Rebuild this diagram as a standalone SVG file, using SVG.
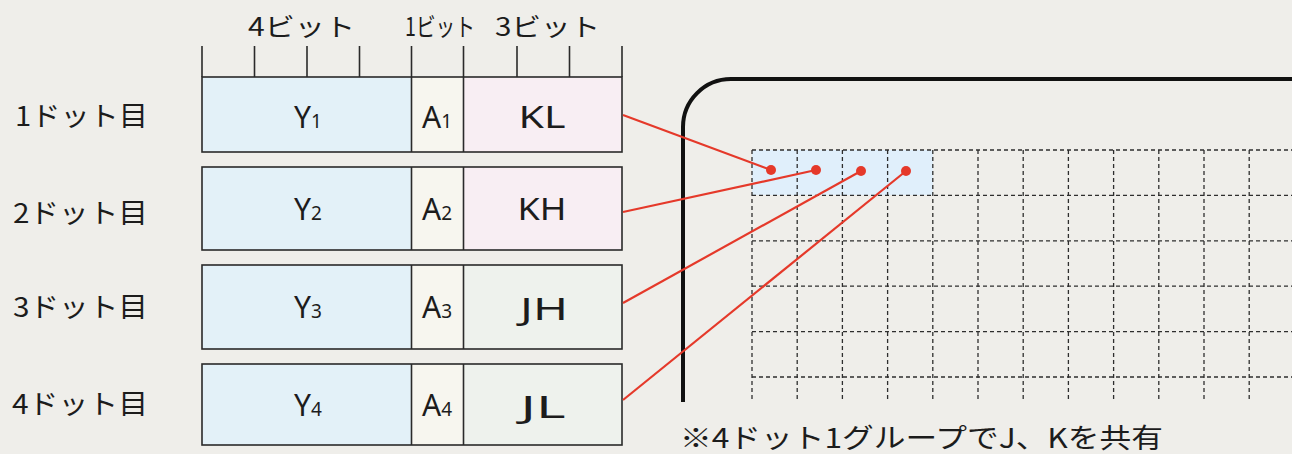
<svg xmlns="http://www.w3.org/2000/svg" width="1292" height="454" viewBox="0 0 1292 454">
<style>
  .t { font-family: "Noto Sans CJK JP", "Noto Sans", sans-serif; fill: #1c1c1c; }
  .c { font-family: "Noto Sans", "Liberation Sans", sans-serif; fill: #1c1c1c; text-anchor: middle; }
  .box { stroke: #2a2a2a; stroke-width: 1.6; }
  .tick { stroke: #2a2a2a; stroke-width: 1.6; }
  .grid { stroke: #2e2e2e; stroke-width: 1.3; stroke-dasharray: 4 3; fill: none; }
  .red { stroke: #e5392a; stroke-width: 2.2; fill: none; }
  .dot { fill: #e5392a; }
  .yc { fill: #e3f1f8; }
  .ac { fill: #f7f6ef; }
  .kc { fill: #f8eef3; }
  .jc { fill: #eef2ed; }
</style>
<rect width="1292" height="454" fill="#efeeea"/>

<g id="header">
  <text class="t" x="248" y="36" font-size="25" textLength="107" lengthAdjust="spacingAndGlyphs">4ビット</text>
  <text class="t" x="405" y="36" font-size="25" textLength="70" lengthAdjust="spacingAndGlyphs">1ビット</text>
  <text class="t" x="495" y="36" font-size="25" textLength="105" lengthAdjust="spacingAndGlyphs">3ビット</text>
  <g class="tick">
    <line x1="202" y1="46" x2="202" y2="77"/>
    <line x1="254.5" y1="46" x2="254.5" y2="77"/>
    <line x1="307" y1="46" x2="307" y2="77"/>
    <line x1="359.5" y1="46" x2="359.5" y2="77"/>
    <line x1="411.5" y1="46" x2="411.5" y2="77"/>
    <line x1="463.5" y1="46" x2="463.5" y2="77"/>
    <line x1="517" y1="46" x2="517" y2="77"/>
    <line x1="569.5" y1="46" x2="569.5" y2="77"/>
    <line x1="622" y1="46" x2="622" y2="77"/>
  </g>
</g>

<g id="row1">
  <text class="t" x="15" y="126" font-size="27" textLength="133" lengthAdjust="spacingAndGlyphs">1ドット目</text>
  <rect class="yc" x="202" y="77" width="209.5" height="75"/>
  <rect class="ac" x="411.5" y="77" width="52" height="75"/>
  <rect class="kc" x="463.5" y="77" width="158.5" height="75"/>
  <rect class="box" x="202" y="77" width="420" height="75" fill="none"/>
  <line class="box" x1="411.5" y1="77" x2="411.5" y2="152"/>
  <line class="box" x1="463.5" y1="77" x2="463.5" y2="152"/>
  <text class="c" x="308" y="128" font-size="30">Y<tspan font-size="19">1</tspan></text>
  <text class="c" x="437" y="128" font-size="30">A<tspan font-size="19">1</tspan></text>
  <text class="c" x="542" y="128" font-size="31" textLength="47" lengthAdjust="spacingAndGlyphs">KL</text>
</g>

<g id="row2">
  <text class="t" x="13" y="223" font-size="27" textLength="135" lengthAdjust="spacingAndGlyphs">2ドット目</text>
  <rect class="yc" x="202" y="167" width="209.5" height="83"/>
  <rect class="ac" x="411.5" y="167" width="52" height="83"/>
  <rect class="kc" x="463.5" y="167" width="158.5" height="83"/>
  <rect class="box" x="202" y="167" width="420" height="83" fill="none"/>
  <line class="box" x1="411.5" y1="167" x2="411.5" y2="250"/>
  <line class="box" x1="463.5" y1="167" x2="463.5" y2="250"/>
  <text class="c" x="308" y="220" font-size="30">Y<tspan font-size="19">2</tspan></text>
  <text class="c" x="437" y="220" font-size="30">A<tspan font-size="19">2</tspan></text>
  <text class="c" x="542" y="220" font-size="31" textLength="49" lengthAdjust="spacingAndGlyphs">KH</text>
</g>

<g id="row3">
  <text class="t" x="13" y="317" font-size="27" textLength="135" lengthAdjust="spacingAndGlyphs">3ドット目</text>
  <rect class="yc" x="202" y="265" width="209.5" height="84"/>
  <rect class="ac" x="411.5" y="265" width="52" height="84"/>
  <rect class="jc" x="463.5" y="265" width="158.5" height="84"/>
  <rect class="box" x="202" y="265" width="420" height="84" fill="none"/>
  <line class="box" x1="411.5" y1="265" x2="411.5" y2="349"/>
  <line class="box" x1="463.5" y1="265" x2="463.5" y2="349"/>
  <text class="c" x="308" y="318" font-size="30">Y<tspan font-size="19">3</tspan></text>
  <text class="c" x="437" y="318" font-size="30">A<tspan font-size="19">3</tspan></text>
  <text class="c" x="544" y="320" font-size="31" textLength="48" lengthAdjust="spacingAndGlyphs">JH</text>
</g>

<g id="row4">
  <text class="t" x="12" y="414" font-size="27" textLength="136" lengthAdjust="spacingAndGlyphs">4ドット目</text>
  <rect class="yc" x="202" y="364" width="209.5" height="81"/>
  <rect class="ac" x="411.5" y="364" width="52" height="81"/>
  <rect class="jc" x="463.5" y="364" width="158.5" height="81"/>
  <rect class="box" x="202" y="364" width="420" height="81" fill="none"/>
  <line class="box" x1="411.5" y1="364" x2="411.5" y2="445"/>
  <line class="box" x1="463.5" y1="364" x2="463.5" y2="445"/>
  <text class="c" x="308" y="416" font-size="30">Y<tspan font-size="19">4</tspan></text>
  <text class="c" x="437" y="416" font-size="30">A<tspan font-size="19">4</tspan></text>
  <text class="c" x="543" y="418" font-size="31" textLength="45" lengthAdjust="spacingAndGlyphs">JL</text>
</g>

<g id="screen">
  <rect x="752" y="150" width="180.8" height="45" fill="#dcefff" opacity="0.8"/>
  <path d="M683 402 L683 127 A48 48 0 0 1 731 79 L1292 79" fill="none" stroke="#111" stroke-width="4"/>
  <g class="grid">
    <line x1="752" y1="150" x2="1292" y2="150"/>
    <line x1="752" y1="195.4" x2="1292" y2="195.4"/>
    <line x1="752" y1="240.8" x2="1292" y2="240.8"/>
    <line x1="752" y1="286.2" x2="1292" y2="286.2"/>
    <line x1="752" y1="331.6" x2="1292" y2="331.6"/>
    <line x1="752" y1="377" x2="1292" y2="377"/>
    <line x1="752" y1="150" x2="752" y2="400"/>
    <line x1="797.2" y1="150" x2="797.2" y2="400"/>
    <line x1="842.4" y1="150" x2="842.4" y2="400"/>
    <line x1="887.6" y1="150" x2="887.6" y2="400"/>
    <line x1="932.8" y1="150" x2="932.8" y2="400"/>
    <line x1="978" y1="150" x2="978" y2="400"/>
    <line x1="1023.2" y1="150" x2="1023.2" y2="400"/>
    <line x1="1068.4" y1="150" x2="1068.4" y2="400"/>
    <line x1="1113.6" y1="150" x2="1113.6" y2="400"/>
    <line x1="1158.8" y1="150" x2="1158.8" y2="400"/>
    <line x1="1204" y1="150" x2="1204" y2="400"/>
    <line x1="1249.2" y1="150" x2="1249.2" y2="400"/>
  </g>
  <text class="t" x="680" y="448" font-size="27" textLength="483" lengthAdjust="spacingAndGlyphs">※4ドット1グループでJ、Kを共有</text>
</g>

<g id="connectors">
  <line class="red" x1="623" y1="115" x2="771" y2="170"/>
  <line class="red" x1="623" y1="212" x2="816" y2="170"/>
  <line class="red" x1="623" y1="303" x2="861" y2="171"/>
  <line class="red" x1="623" y1="400" x2="906" y2="171"/>
  <circle class="dot" cx="771" cy="170" r="5"/>
  <circle class="dot" cx="816" cy="170" r="5"/>
  <circle class="dot" cx="861" cy="171" r="5"/>
  <circle class="dot" cx="906" cy="171" r="5"/>
</g>
</svg>
